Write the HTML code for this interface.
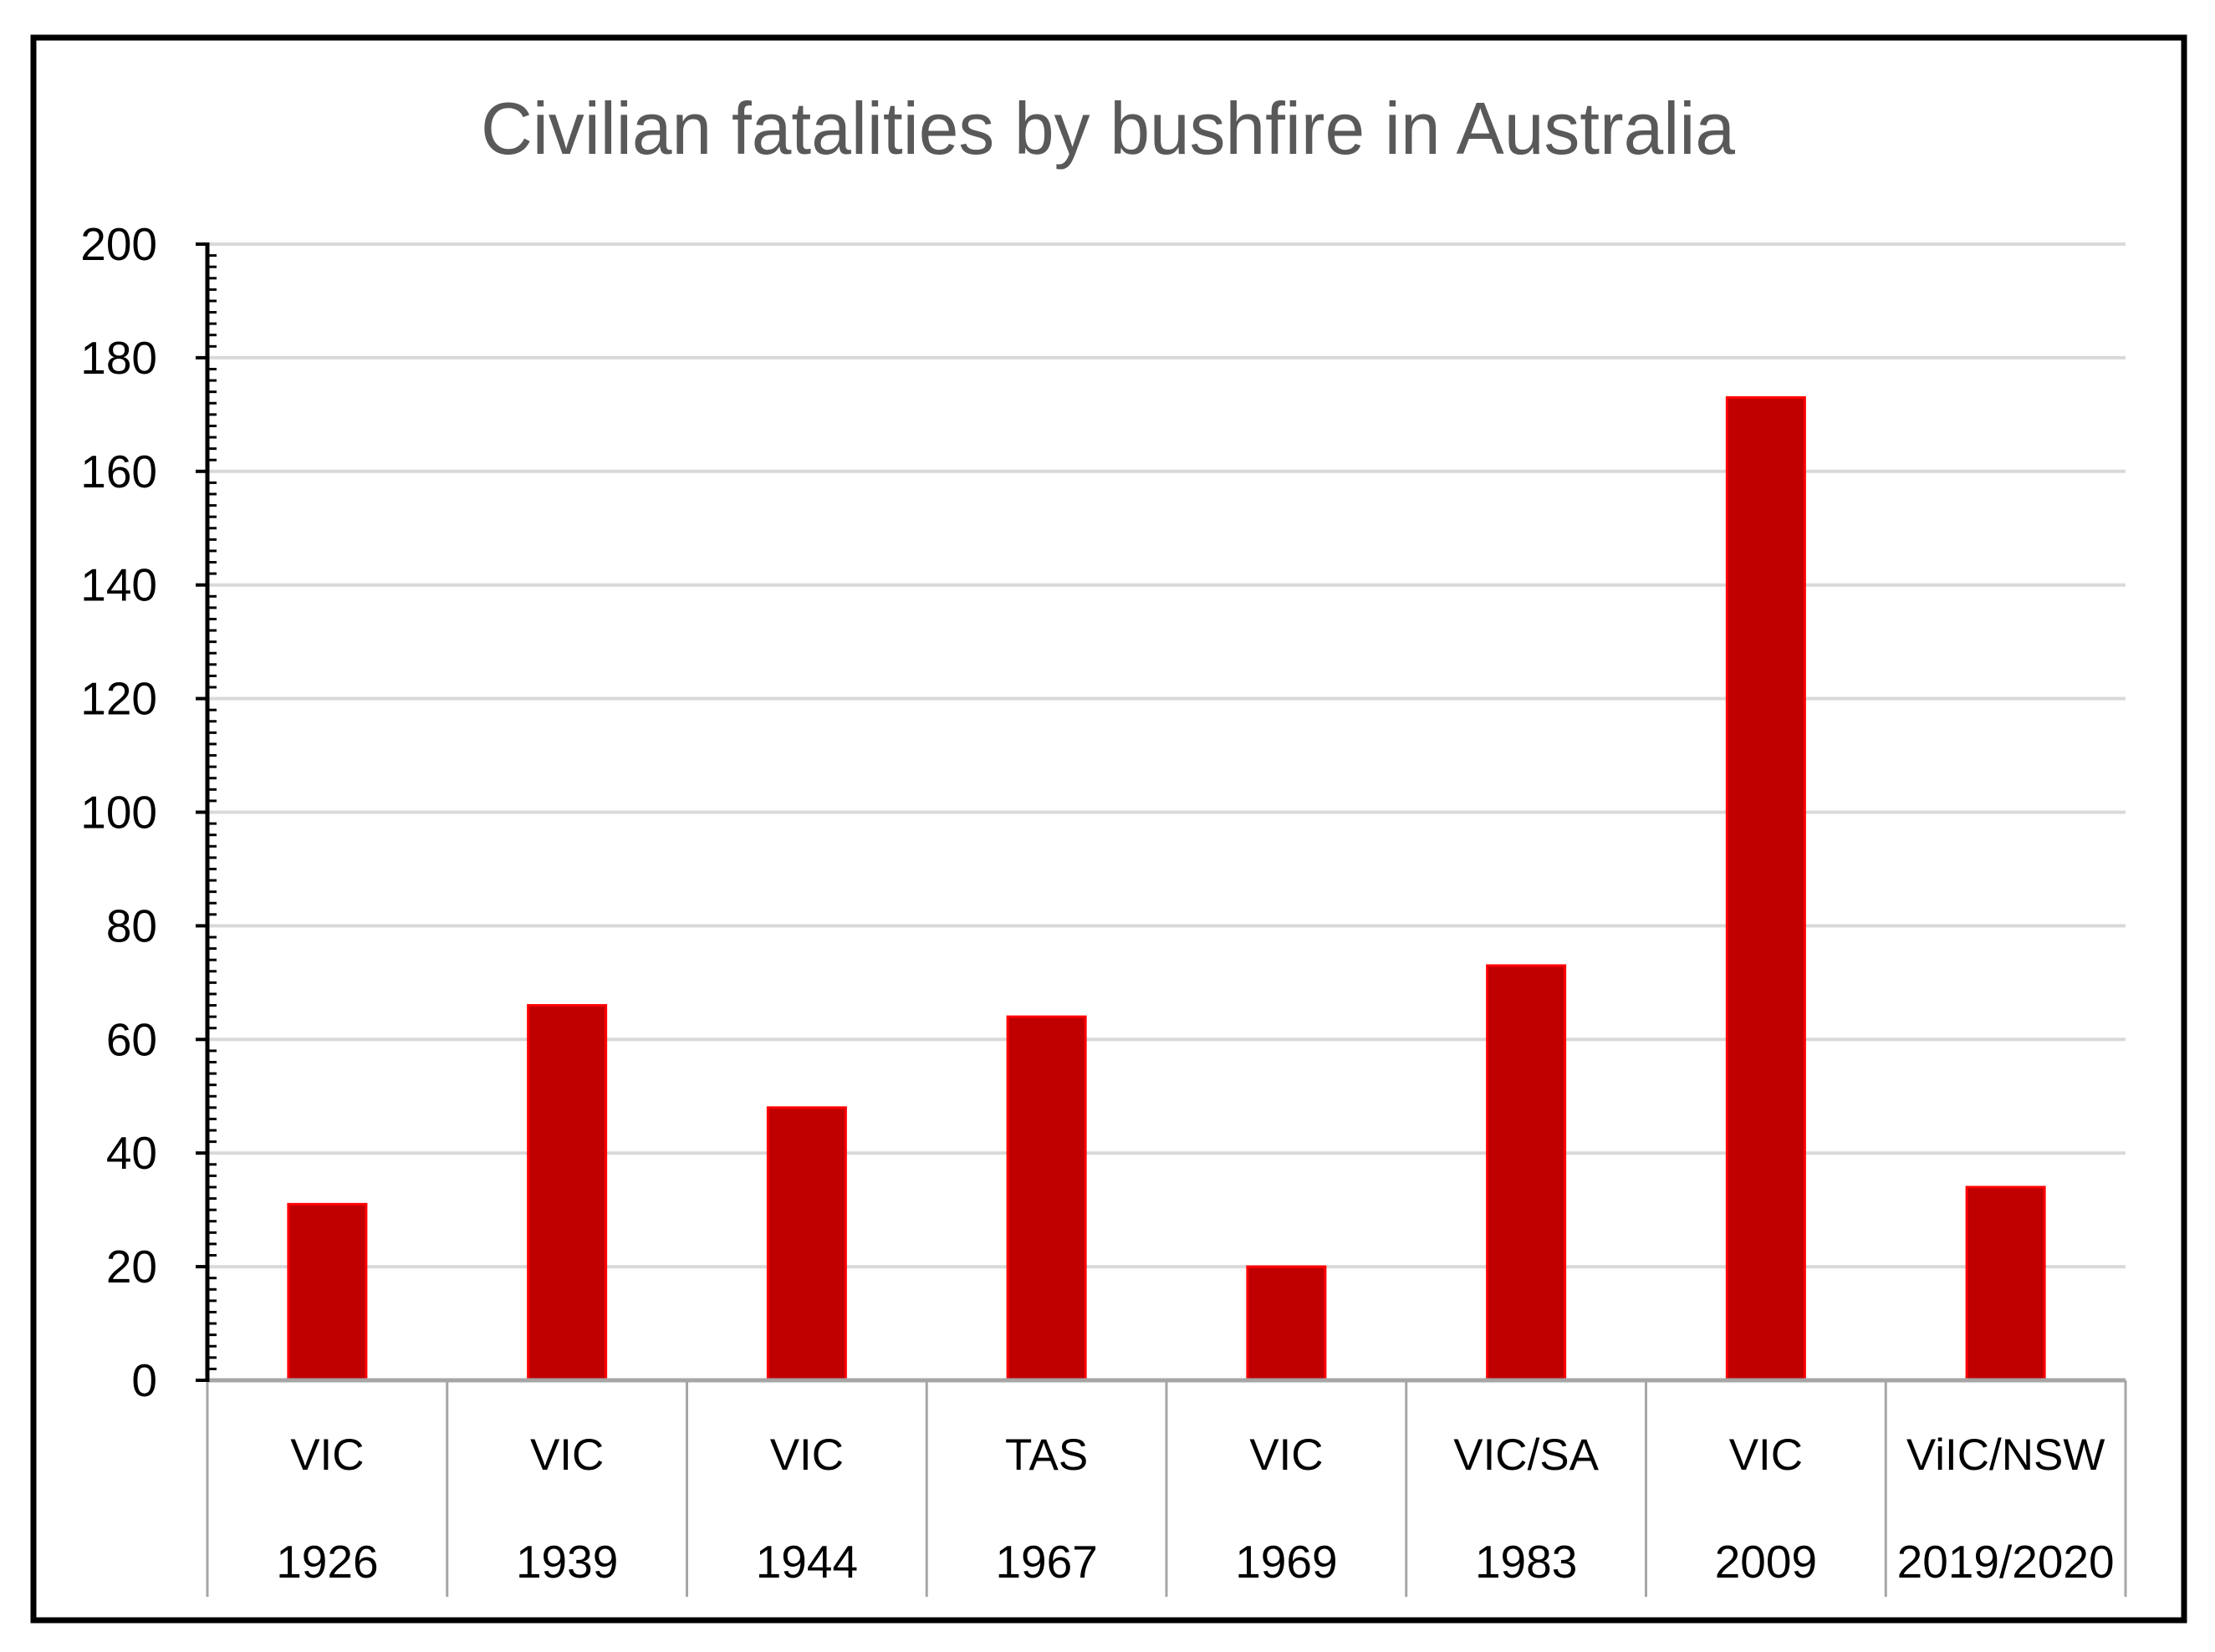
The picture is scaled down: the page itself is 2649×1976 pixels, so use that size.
<!DOCTYPE html>
<html><head><meta charset="utf-8"><style>
html,body{margin:0;padding:0;background:#fff;}
svg{display:block;}
text{font-family:"Liberation Sans",sans-serif;}
</style></head><body>
<svg id="chart" width="2649" height="1976" viewBox="0 0 2649 1976" xmlns="http://www.w3.org/2000/svg">
<rect x="0" y="0" width="2649" height="1976" fill="#fff"/>
<rect x="40" y="45" width="2572" height="1893" fill="#fff" stroke="#000" stroke-width="7"/>
<text x="1325" y="184" text-anchor="middle" font-size="88" fill="#595959" textLength="1500" lengthAdjust="spacingAndGlyphs">Civilian fatalities by bushfire in Australia</text>
<g id="grid"></g>
<g id="bars"></g>
<g id="xaxis"></g>
<g id="yaxis"></g>
</svg>
<script>
const regions = ["VIC","VIC","VIC","TAS","VIC","VIC/SA","VIC","ViIC/NSW"];
const years = ["1926","1939","1944","1967","1969","1983","2009","2019/2020"];
const fatalities = [31,66,48,64,20,73,173,34];
const yTicks = [0,20,40,60,80,100,120,140,160,180,200];

const NS="http://www.w3.org/2000/svg";
const X0=248, X1=2542, Y0=1651, Y200=292, YMAX=200;
const band=(X1-X0)/regions.length, barW=93;
function y(v){return Y0-(v/YMAX)*(Y0-Y200);}
function xc(i){return X0+band*(i+0.5);}
function mk(tag,attrs,parent){const e=document.createElementNS(NS,tag);for(const k in attrs)e.setAttribute(k,attrs[k]);parent.appendChild(e);return e;}
const grid=document.getElementById('grid'),bars=document.getElementById('bars'),xa=document.getElementById('xaxis'),ya=document.getElementById('yaxis');

yTicks.forEach(t=>{
  if(t>0){
    const g=mk('line',{x1:X0,x2:X1,y1:y(t),y2:y(t),stroke:'#D9D9D9','stroke-width':4},grid);
    
    
  }
  const tk=mk('line',{x1:X0-14,x2:X0,y1:y(t),y2:y(t),stroke:'#000','stroke-width':4},ya);
  
  
  const lb=mk('text',{x:188,y:y(t)+19,'text-anchor':'end','font-size':55,fill:'#000'},ya);
  lb.textContent=t;
  
  
});
for(let v=2;v<YMAX;v+=2){
  if(v%20===0)continue;
  const m=mk('line',{x1:X0,x2:X0+11,y1:y(v),y2:y(v),stroke:'#000','stroke-width':3},ya);
  
  
}
const ax=mk('line',{x1:X0,x2:X0,y1:Y200-2,y2:Y0+2,stroke:'#000','stroke-width':5},ya);



fatalities.forEach((v,i)=>{
  const r=mk('rect',{x:xc(i)-barW/2,y:y(v),width:barW,height:Y0-y(v),fill:'#C00000',stroke:'#FF0000','stroke-width':3},bars);
  
  
});

const xl=mk('line',{x1:X0,x2:X1,y1:Y0,y2:Y0,stroke:'#A6A6A6','stroke-width':5},xa);


for(let i=0;i<=regions.length;i++){
  const d=mk('line',{x1:X0+band*i,x2:X0+band*i,y1:Y0,y2:1910,stroke:'#A6A6A6','stroke-width':3},xa);
  
  
}
regions.forEach((r,i)=>{
  const t1=mk('text',{x:xc(i),y:1758,'text-anchor':'middle','font-size':53,fill:'#000'},xa);
  t1.textContent=r;
  
  
  const t2=mk('text',{x:xc(i),y:1887,'text-anchor':'middle','font-size':55,fill:'#000'},xa);
  t2.textContent=years[i];
  
  
});
</script>
</body></html>
